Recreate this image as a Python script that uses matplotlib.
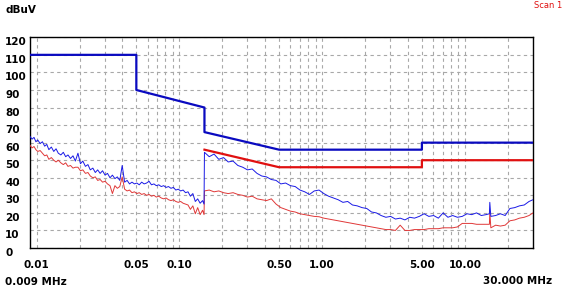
import matplotlib
matplotlib.use("Agg")
import matplotlib.pyplot as plt
from matplotlib.ticker import FixedLocator, NullFormatter

# ---------------- data ----------------
freq_a = [0.0090, 0.0093, 0.0096, 0.0099, 0.0102, 0.0106, 0.0110, 0.0114, 0.0118, 0.0122,
          0.0127, 0.0132, 0.0137, 0.0142, 0.0148, 0.0154, 0.0160, 0.0166, 0.0173, 0.0180,
          0.0187, 0.0195, 0.0203, 0.0211, 0.0220, 0.0229, 0.0238, 0.0248, 0.0258, 0.0268,
          0.0279, 0.0290, 0.0302, 0.0314, 0.0327, 0.0340, 0.0354, 0.0368, 0.0383, 0.0398,
          0.0414, 0.0431, 0.0448, 0.0466, 0.0485, 0.0504, 0.0524, 0.0545, 0.0567, 0.0590,
          0.0614, 0.0638, 0.0664, 0.0690, 0.0718, 0.0747, 0.0777, 0.0808, 0.0840, 0.0874,
          0.0909, 0.0945, 0.0983, 0.1022, 0.1063, 0.1106, 0.1150, 0.1196, 0.1244, 0.1294,
          0.1345, 0.1399, 0.1455, 0.1490]
peak_a = [63.5, 62.0, 63.0, 60.5, 61.5, 59.5, 60.5, 58.0, 59.0, 56.0,
          57.5, 55.0, 56.5, 54.0, 53.0, 54.5, 52.0, 53.0, 51.0, 52.5,
          49.5, 54.0, 48.0, 49.5, 46.5, 47.5, 44.5, 45.5, 43.0, 44.5,
          42.5, 44.0, 41.5, 42.5, 40.0, 41.5, 39.5, 40.5, 38.5, 47.0,
          37.5, 38.5, 36.5, 37.5, 36.5, 37.0, 36.0, 37.5, 36.5, 37.0,
          38.0, 36.0, 36.5, 35.5, 36.0, 35.0, 35.5, 34.5, 35.0, 34.0,
          34.5, 33.0, 33.5, 32.5, 33.0, 31.5, 32.0, 29.5, 31.0, 26.5,
          28.0, 25.5, 27.0, 25.0]
avg_a = [58.5, 57.0, 57.8, 56.0, 55.0, 55.5, 54.0, 52.5, 53.0, 50.5,
         51.5, 50.0, 49.0, 50.0, 48.5, 47.5, 48.5, 46.5, 47.0, 45.5,
         46.0, 46.0, 44.0, 44.5, 42.5, 43.0, 41.0, 40.0, 40.5, 38.5,
         39.0, 37.5, 38.0, 36.5, 35.5, 31.0, 35.5, 34.0, 35.0, 40.5,
         33.5, 32.5, 33.0, 31.5, 32.0, 31.0, 31.5, 30.5, 31.0, 30.0,
         30.5, 29.5, 30.0, 29.0, 29.5, 28.5, 28.0, 28.5, 27.5, 27.0,
         27.5, 26.5, 26.0, 26.5, 25.5, 25.0, 24.5, 22.0, 24.0, 19.5,
         23.0, 19.0, 21.5, 19.0]

freq_b = [0.150, 0.162, 0.175, 0.189, 0.204, 0.220, 0.238, 0.257, 0.278, 0.300,
          0.324, 0.350, 0.378, 0.408, 0.441, 0.476, 0.514, 0.555, 0.600, 0.648,
          0.700, 0.756, 0.816, 0.881, 0.952, 1.028, 1.110, 1.199, 1.295, 1.399,
          1.511, 1.632, 1.762, 1.903, 2.055, 2.220, 2.397, 2.589, 2.796, 3.020,
          3.262, 3.523, 3.804, 4.109, 4.437, 4.792, 5.176, 5.590, 6.037, 6.520,
          7.042, 7.605, 8.213, 8.870, 9.580, 10.35, 11.17, 12.07, 13.03, 14.07,
          14.85, 14.95, 15.20, 16.42, 17.73, 19.15, 20.68, 22.34, 24.12, 26.05,
          28.14, 30.0]
peak_b = [54.5, 52.0, 53.5, 50.5, 51.5, 49.0, 49.5, 47.0, 46.0, 44.5,
          45.0, 42.5, 41.0, 40.5, 39.0, 38.5, 36.5, 37.0, 35.5, 35.0,
          33.0, 32.0, 30.5, 32.5, 33.0, 31.0, 29.5, 28.5, 27.5, 26.0,
          26.5, 24.5, 24.0, 23.0, 22.5, 20.5, 20.0, 18.5, 17.5, 18.0,
          16.5, 17.0, 16.0, 17.5, 17.0, 18.0, 19.5, 18.0, 18.5, 17.0,
          20.0, 17.5, 18.5, 17.5, 18.0, 19.5, 19.0, 20.0, 18.5, 19.0,
          19.5, 26.0, 18.0, 18.5, 19.5, 18.5, 22.5, 23.0, 24.0, 24.5,
          26.5, 27.5]
avg_b = [32.5, 33.0, 32.0, 32.5, 31.5, 31.0, 31.5, 30.5, 30.0, 29.0,
         29.5, 28.0, 27.5, 27.0, 28.0, 25.0, 23.0, 22.0, 21.0, 20.5,
         19.5, 19.0, 18.5, 18.0, 17.8, 17.0, 16.5, 16.0, 15.5, 15.0,
         14.5, 14.0, 13.5, 13.0, 12.5, 12.0, 11.5, 11.0, 10.5, 10.5,
         10.0, 13.0, 10.0, 10.0, 10.5, 10.5, 10.5, 11.0, 11.0, 11.0,
         11.5, 11.5, 11.5, 12.0, 14.0, 14.0, 14.0, 13.5, 13.5, 13.5,
         13.5, 20.5, 11.5, 13.0, 12.5, 13.0, 15.5, 16.0, 17.0, 17.5,
         18.5, 20.0]

qp_limit_f = [0.009, 0.05, 0.05, 0.15, 0.15, 0.5, 5.0, 5.0, 30.0]
qp_limit_v = [110, 110, 90, 80, 66, 56, 56, 60, 60]
av_limit_f = [0.15, 0.5, 5.0, 5.0, 30.0]
av_limit_v = [56, 46, 46, 50, 50]

x_tick_vals = [0.01, 0.05, 0.1, 0.5, 1.0, 5.0, 10.0]
x_tick_labels = ["0.01", "0.05", "0.10", "0.50", "1.00", "5.00", "10.00"]
y_ticks = list(range(0, 121, 10))

# ---------------- figure ----------------
W, H = 564, 294
fig = plt.figure(figsize=(W / 100, H / 100), dpi=100)
fig.patch.set_facecolor("white")
ax = fig.add_axes([30 / W, 1 - 248 / H, (533 - 30) / W, (248 - 37.3) / H])

ax.set_xscale("log")
ax.set_xlim(0.009, 30.0)
ax.set_ylim(0, 120)

minor = [m * 10.0 ** e for e in range(-3, 2) for m in range(1, 10)]
minor = [v for v in minor if 0.0095 < v < 29.5]
ax.xaxis.set_major_locator(FixedLocator(x_tick_vals))
ax.xaxis.set_minor_locator(FixedLocator(minor))
ax.xaxis.set_minor_formatter(NullFormatter())
ax.set_xticklabels(x_tick_labels)
ax.set_yticks(y_ticks)

ax.grid(True, which="both", axis="x", color="#a8a8a8", linestyle=(0, (3, 3)), linewidth=0.8)
ax.grid(True, which="major", axis="y", color="#a8a8a8", linestyle=(0, (3, 3)), linewidth=0.8)
ax.set_axisbelow(True)

ax.tick_params(axis="both", which="both", length=0)
ax.tick_params(axis="x", pad=9, labelsize=7.5)
ax.tick_params(axis="y", pad=18, labelsize=7.5)
for lab in ax.get_xticklabels():
    lab.set_fontweight("bold")
for lab in ax.get_yticklabels():
    lab.set_fontweight("bold")
    lab.set_horizontalalignment("left")
    lab.set_verticalalignment("top")

for s in ax.spines.values():
    s.set_color("black")
    s.set_linewidth(1.0)

# traces
ax.plot(freq_a + freq_b, avg_a + avg_b, color="#e03838", linewidth=0.7, zorder=3)
ax.plot(freq_a + freq_b, peak_a + peak_b, color="#1a1ae6", linewidth=0.7, zorder=4)
# limits
ax.plot(qp_limit_f, qp_limit_v, color="#0a0ac0", linewidth=1.6, zorder=5)
ax.plot(av_limit_f, av_limit_v, color="#e01010", linewidth=1.6, zorder=5)

# texts
fig.text(5 / W, 1 - 10 / H, "dBuV", fontsize=7.5, fontweight="bold", ha="left", va="center")
fig.text(5 / W, 1 - 282 / H, "0.009 MHz", fontsize=7.5, fontweight="bold", ha="left", va="center")
fig.text(552 / W, 1 - 281 / H, "30.000 MHz", fontsize=7.5, fontweight="bold", ha="right", va="center")
fig.text(562 / W, 1 - 5 / H, "Scan 1", fontsize=6, color="#e01010", ha="right", va="center")

fig.savefig("out.png", dpi=100)
